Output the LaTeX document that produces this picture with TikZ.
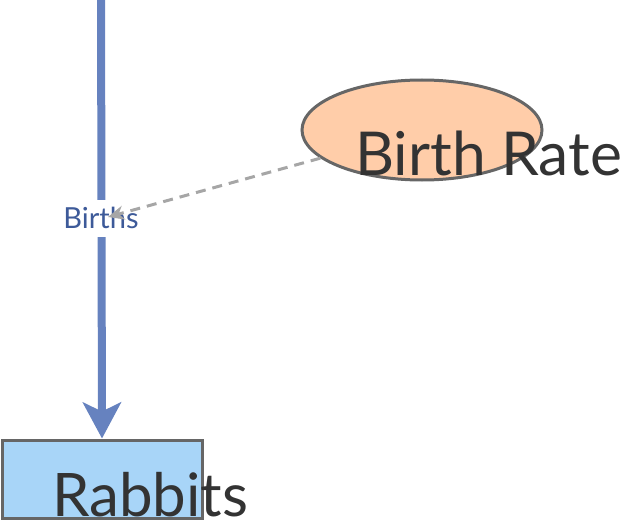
\documentclass[tikz,border=0pt]{standalone}
\usepackage{fontspec}
\setmainfont{Lato}
\usetikzlibrary{arrows.meta,shapes.geometric}
\definecolor{peach}{HTML}{FFCDA9}
\definecolor{skyb}{HTML}{A8D5F8}
\definecolor{edgegray}{HTML}{666666}
\definecolor{flowblue}{HTML}{6682BF}
\definecolor{lblblue}{HTML}{3D5A99}
\definecolor{dashgray}{HTML}{A6A6A6}
\definecolor{txt}{HTML}{333333}
\tikzset{
  stockbox/.style={draw=edgegray, line width=3pt, fill=skyb, minimum width=200pt, minimum height=78pt, inner sep=0pt},
  auxell/.style={draw=edgegray, line width=3pt, fill=peach, ellipse, minimum width=240pt, minimum height=100pt, inner sep=0pt},
  flowline/.style={draw=flowblue, line width=8pt},
  linkline/.style={draw=dashgray, line width=3pt, dash pattern=on 10pt off 7pt},
  flowlabel/.style={fill=white, text=lblblue, font=\fontsize{29}{29}\selectfont, inner sep=0pt, minimum height=37pt},
  bigtext/.style={text=txt, inner sep=0pt, anchor=base west},
}
\begin{document}
\begin{tikzpicture}[x=1pt,y=-1pt]
\useasboundingbox (0,0) rectangle (626,524);
\node[stockbox] (rabbits) at (102,479) {};
\node[auxell] (birthrate) at (422,130) {};
\coordinate (src) at (101,-5);
\draw[flowline, -{Stealth[length=36pt,width=38pt,inset=9pt]}] (src) -- (rabbits.north);
\node[flowlabel] (births) at (101,218) {Births};
\coordinate (tip) at (108,217);
\draw[linkline, -{Stealth[length=16pt,width=14pt,inset=5pt]}] (birthrate) -- (tip);
\node[bigtext, font=\fontsize{60.5}{60}\selectfont] (brlabel) at (355,175) {Birth Rate};
\node[bigtext, font=\fontsize{60}{60}\selectfont] (rablabel) at (52,516) {Rabbits};
\end{tikzpicture}
\end{document}
